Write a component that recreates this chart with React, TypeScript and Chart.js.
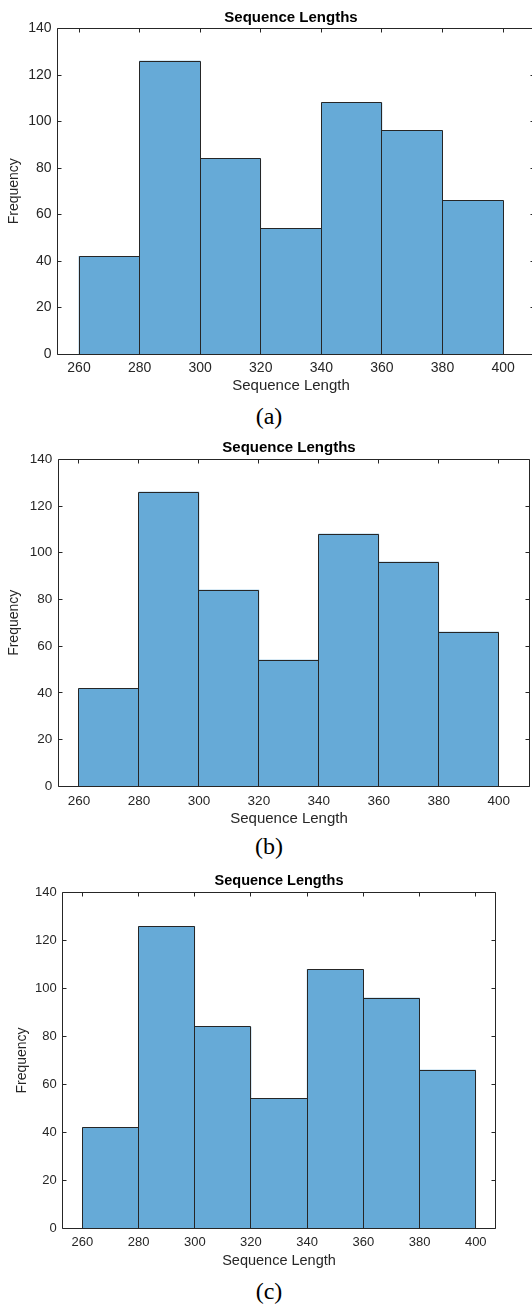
import React, { useEffect, useRef } from "react";
import { Chart, registerables } from "chart.js";

Chart.register(...registerables);

// ---- data ----
const binEdges = [260, 280, 300, 320, 340, 360, 380, 400];
const counts = [42, 126, 84, 54, 108, 96, 66];
const xTicks = [260, 280, 300, 320, 340, 360, 380, 400];
const yTicks = [0, 20, 40, 60, 80, 100, 120, 140];
const xAxisMin = [252.9, 253.1, 253.0];
const xAxisMax = [410.2, 410.2, 407.1];
const yAxisMin = 0;
const yAxisMax = 140;
const titleText = "Sequence Lengths";
const xLabel = "Sequence Length";
const yLabel = "Frequency";
const captions = ["(a)", "(b)", "(c)"];

// ---- layout / style (not data) ----
const FONT = '"Liberation Sans", Arial, Helvetica, sans-serif';
const AXIS_COLOR = "#262626";
const BAR_FILL = "#66aad7";
const BAR_EDGE = "#262626";

type Spec = {
  top: number;
  width: number;
  height: number;
  yAxisW: number;
  rightW: number;
  titleSize: number;
  titlePad: [number, number];
  tickSize: number;
  xTickPad: number;
  labelSize: number;
  subPad: [number, number];
  yTitleSize: number;
  yTitlePad: number;
  captionTop: number;
};

const panels: Spec[] = [
  {
    top: 0, width: 582, height: 397, yAxisW: 57.5, rightW: 48,
    titleSize: 15, titlePad: [8.7, 1.8], tickSize: 14, xTickPad: 5.3,
    labelSize: 15, subPad: [3, 2], yTitleSize: 14, yTitlePad: 5.6, captionTop: 404.3,
  },
  {
    top: 430, width: 578, height: 400, yAxisW: 58.3, rightW: 48.7,
    titleSize: 15, titlePad: [9, 2.3], tickSize: 13.5, xTickPad: 6.4,
    labelSize: 15, subPad: [3.7, 2], yTitleSize: 14, yTitlePad: 5.6, captionTop: 834,
  },
  {
    top: 860, width: 558, height: 412, yAxisW: 62.7, rightW: 62.3,
    titleSize: 14.5, titlePad: [12.6, 2.7], tickSize: 13, xTickPad: 6.6,
    labelSize: 14.5, subPad: [4, 2.3], yTitleSize: 14, yTitlePad: 13.5, captionTop: 1278.5,
  },
];

const TICK_LEN = 4;
const snap = (v: number) => Math.floor(v) + 0.5;

const boxPlugin = {
  id: "matlabBox",
  afterDatasetsDraw(chart: any) {
    // crisp 1px outlines around each histogram bar, from the bar elements' own geometry
    const { ctx } = chart;
    const meta = chart.getDatasetMeta(0);
    ctx.save();
    ctx.strokeStyle = BAR_EDGE;
    ctx.lineWidth = 1;
    ctx.beginPath();
    for (const el of meta.data) {
      const p = el.getProps(["x", "y", "base", "width"], true);
      const l = snap(p.x - p.width / 2);
      const r = snap(p.x + p.width / 2);
      const t = snap(p.y);
      const b = snap(p.base);
      ctx.moveTo(l, b);
      ctx.lineTo(l, t);
      ctx.lineTo(r, t);
      ctx.lineTo(r, b);
    }
    ctx.stroke();
    ctx.restore();
  },
  afterDraw(chart: any) {
    const { ctx, chartArea: a } = chart;
    const x = chart.scales.x;
    const y = chart.scales.y;
    const L = snap(a.left), R = snap(a.right), T = snap(a.top), B = snap(a.bottom);
    ctx.save();
    ctx.strokeStyle = AXIS_COLOR;
    ctx.lineWidth = 1;
    ctx.beginPath();
    ctx.rect(L, T, R - L, B - T);
    for (const v of yTicks) {
      const p = snap(y.getPixelForValue(v));
      ctx.moveTo(L, p);
      ctx.lineTo(L + TICK_LEN, p);
      ctx.moveTo(R, p);
      ctx.lineTo(R - TICK_LEN, p);
    }
    for (const v of xTicks) {
      const p = snap(x.getPixelForValue(v));
      ctx.moveTo(p, T);
      ctx.lineTo(p, T + TICK_LEN);
      ctx.moveTo(p, B);
      ctx.lineTo(p, B - TICK_LEN);
    }
    ctx.stroke();
    ctx.restore();
  },
};

function Panel({ spec, index }: { spec: Spec; index: number }) {
  const ref = useRef<HTMLCanvasElement>(null);

  useEffect(() => {
    const canvas = ref.current;
    if (!canvas) return;
    const data = counts.map((c, i) => ({
      x: (binEdges[i] + binEdges[i + 1]) / 2,
      y: c,
    }));
    const chart = new Chart(canvas, {
      type: "bar",
      data: {
        datasets: [
          {
            data,
            backgroundColor: BAR_FILL,
            borderColor: BAR_EDGE,
            borderWidth: 0,
            borderSkipped: false,
            barPercentage: 1,
            categoryPercentage: 1,
            inflateAmount: 0.3,
          } as any,
        ],
      },
      plugins: [boxPlugin],
      options: {
        responsive: false,
        animation: false,
        devicePixelRatio: 1,
        events: [],
        layout: { padding: 0 },
        scales: {
          x: {
            type: "linear",
            position: "bottom",
            min: xAxisMin[index],
            max: xAxisMax[index],
            offset: false,
            grid: { display: false, offset: false, drawTicks: false },
            border: { display: false },
            ticks: {
              padding: spec.xTickPad,
              color: AXIS_COLOR,
              font: { family: FONT, size: spec.tickSize },
              maxRotation: 0,
              autoSkip: false,
            },
            afterBuildTicks: (s: any) => {
              s.ticks = xTicks.map((v) => ({ value: v }));
            },
            afterFit: (s: any) => {
              s.height = 20;
            },
          },
          y: {
            type: "linear",
            position: "left",
            min: yAxisMin,
            max: yAxisMax,
            grid: { display: false, drawTicks: false },
            border: { display: false },
            ticks: {
              padding: 6,
              color: AXIS_COLOR,
              font: { family: FONT, size: spec.tickSize },
            },
            title: {
              display: true,
              text: yLabel,
              color: AXIS_COLOR,
              font: { family: FONT, size: spec.yTitleSize },
              padding: { top: spec.yTitlePad, bottom: 0 },
            },
            afterBuildTicks: (s: any) => {
              s.ticks = yTicks.map((v) => ({ value: v }));
            },
            afterFit: (s: any) => {
              s.width = spec.yAxisW;
            },
          },
          yRight: {
            type: "linear",
            position: "right",
            display: true,
            grid: { display: false, drawTicks: false },
            border: { display: false },
            ticks: { display: false },
            afterFit: (s: any) => {
              s.width = spec.rightW;
            },
          },
        },
        plugins: {
          legend: { display: false },
          tooltip: { enabled: false },
          title: {
            display: true,
            text: titleText,
            color: "#000000",
            font: { family: FONT, size: spec.titleSize, weight: "bold" },
            padding: { top: spec.titlePad[0], bottom: spec.titlePad[1] },
          },
          subtitle: {
            display: true,
            position: "bottom",
            text: xLabel,
            color: AXIS_COLOR,
            font: { family: FONT, size: spec.labelSize, weight: "normal" },
            padding: { top: spec.subPad[0], bottom: spec.subPad[1] },
          },
        },
      } as any,
    });
    return () => chart.destroy();
  }, [spec, index]);

  return (
    <>
      <canvas
        ref={ref}
        width={spec.width}
        height={spec.height}
        style={{
          position: "absolute",
          left: 0,
          top: spec.top,
          width: spec.width,
          height: spec.height,
        }}
      />
      <div
        style={{
          position: "absolute",
          left: 0,
          top: spec.captionTop,
          width: 538,
          textAlign: "center",
          fontFamily: '"Liberation Serif", "Times New Roman", serif',
          fontSize: 24,
          lineHeight: "24px",
          color: "#000",
        }}
      >
        {captions[index]}
      </div>
    </>
  );
}

export default function App() {
  return (
    <div
      style={{
        position: "absolute",
        left: 0,
        top: 0,
        width: 532,
        height: 1304,
        overflow: "hidden",
        background: "#ffffff",
      }}
    >
      {panels.map((p, i) => (
        <Panel key={i} spec={p} index={i} />
      ))}
    </div>
  );
}
